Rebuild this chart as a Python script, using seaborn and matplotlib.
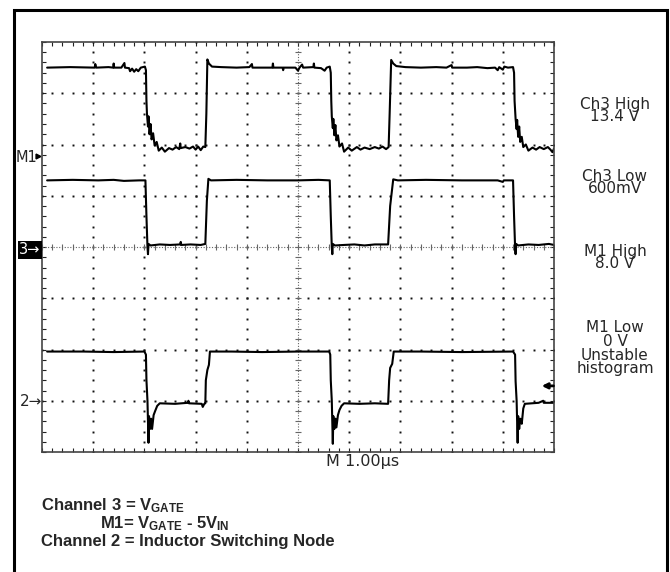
import matplotlib
matplotlib.use("Agg")
import matplotlib.pyplot as plt
import seaborn as sns
import pandas as pd
import numpy as np

# scope traces, (time in us, position in screen divisions, 0 = centre line)
m1_points = [
    (0.10, 3.50), (0.55, 3.51), (0.95, 3.50), (1.03, 3.50), (1.04, 3.57), (1.06, 3.50),
    (1.30, 3.51), (1.39, 3.50), (1.40, 3.58), (1.41, 3.50), (1.55, 3.50), (1.61, 3.59),
    (1.62, 3.50), (1.70, 3.49), (1.72, 3.43), (1.76, 3.48), (1.80, 3.42), (1.84, 3.47),
    (1.88, 3.43), (1.93, 3.50), (2.01, 3.52),
    (2.03, 3.45), (2.04, 2.85), (2.05, 2.60), (2.07, 2.35), (2.08, 2.55), (2.10, 2.20),
    (2.12, 2.40), (2.14, 2.10), (2.17, 2.22), (2.20, 1.98), (2.24, 2.05), (2.28, 1.88),
    (2.34, 1.94), (2.40, 1.86), (2.48, 1.93), (2.55, 1.90), (2.62, 1.95), (2.68, 1.91),
    (2.70, 2.02), (2.71, 1.93), (2.80, 1.95), (2.88, 1.92), (2.95, 1.96), (3.00, 1.90),
    (3.05, 1.96), (3.10, 1.89), (3.15, 1.96), (3.19, 1.95),
    (3.21, 2.60), (3.23, 3.66), (3.26, 3.58), (3.32, 3.52), (3.50, 3.51), (3.80, 3.50),
    (4.05, 3.51), (4.10, 3.57), (4.11, 3.50), (4.35, 3.50), (4.50, 3.50), (4.51, 3.58),
    (4.52, 3.50), (4.70, 3.50), (4.71, 3.45), (4.72, 3.50), (4.95, 3.50), (5.00, 3.44),
    (5.03, 3.50), (5.08, 3.56), (5.10, 3.50), (5.30, 3.51), (5.31, 3.58), (5.32, 3.50),
    (5.45, 3.49), (5.52, 3.44), (5.56, 3.50), (5.62, 3.52),
    (5.64, 3.40), (5.65, 2.85), (5.66, 2.55), (5.68, 2.32), (5.69, 2.50), (5.71, 2.18),
    (5.73, 2.38), (5.75, 2.08), (5.78, 2.18), (5.81, 1.96), (5.86, 2.02), (5.90, 1.86),
    (5.98, 1.94), (6.05, 1.88), (6.15, 1.95), (6.22, 1.90), (6.30, 1.94), (6.40, 1.91),
    (6.50, 1.95), (6.58, 1.92), (6.65, 1.96), (6.72, 1.91), (6.77, 1.95),
    (6.79, 2.60), (6.82, 3.65), (6.86, 3.58), (6.92, 3.53), (7.10, 3.51), (7.40, 3.50),
    (7.70, 3.51), (7.90, 3.50), (8.00, 3.55), (8.01, 3.50), (8.30, 3.50), (8.50, 3.51),
    (8.70, 3.49), (8.85, 3.50), (8.90, 3.45), (8.93, 3.51), (9.00, 3.46), (9.03, 3.52),
    (9.10, 3.50), (9.20, 3.51),
    (9.22, 3.40), (9.23, 2.85), (9.25, 2.50), (9.27, 2.30), (9.28, 2.48), (9.30, 2.15),
    (9.32, 2.35), (9.34, 2.05), (9.37, 2.15), (9.40, 1.95), (9.45, 2.00), (9.50, 1.88),
    (9.58, 1.94), (9.65, 1.90), (9.72, 1.95), (9.80, 1.91), (9.88, 1.95), (9.93, 1.90),
    (9.97, 1.85), (10.0, 1.92),
]

ch3_points = [
    (0.10, 1.30), (0.60, 1.31), (1.10, 1.30), (1.40, 1.31), (1.60, 1.29), (1.90, 1.30),
    (2.02, 1.30), (2.04, 0.60), (2.06, 0.00), (2.07, -0.14), (2.08, 0.06), (2.12, 0.03),
    (2.30, 0.05), (2.50, 0.04), (2.70, 0.05), (2.71, 0.10), (2.72, 0.04), (2.90, 0.05),
    (3.10, 0.04), (3.19, 0.06), (3.22, 0.90), (3.25, 1.33), (3.30, 1.30), (3.80, 1.31),
    (4.40, 1.30), (5.00, 1.30), (5.40, 1.31), (5.62, 1.30),
    (5.64, 0.60), (5.66, 0.00), (5.67, -0.14), (5.68, 0.06), (5.72, 0.03), (5.90, 0.04),
    (6.10, 0.05), (6.30, 0.03), (6.50, 0.05), (6.76, 0.05), (6.80, 0.80), (6.86, 1.32),
    (6.95, 1.30), (7.50, 1.31), (8.20, 1.30), (8.90, 1.30), (9.00, 1.27), (9.02, 1.30),
    (9.20, 1.30), (9.22, 0.60), (9.24, 0.00), (9.25, -0.14), (9.26, 0.06), (9.30, 0.03),
    (9.50, 0.05), (9.70, 0.04), (9.90, 0.06), (10.0, 0.04),
]

ch2_points = [
    (0.10, -2.04), (0.80, -2.04), (1.40, -2.05), (2.00, -2.04), (2.03, -2.10),
    (2.04, -2.60), (2.06, -3.00), (2.08, -3.82), (2.09, -3.30), (2.11, -3.55), (2.13, -3.35),
    (2.15, -3.55), (2.18, -3.28), (2.21, -3.20), (2.25, -3.10), (2.30, -3.05), (2.60, -3.06),
    (2.85, -3.04), (2.86, -3.00), (2.87, -3.05), (3.12, -3.06), (3.14, -3.12), (3.17, -3.06),
    (3.19, -3.05), (3.20, -2.60), (3.23, -2.40), (3.26, -2.30), (3.28, -2.04), (3.70, -2.04),
    (4.30, -2.05), (5.00, -2.04), (5.61, -2.04), (5.63, -2.10),
    (5.64, -2.60), (5.66, -3.00), (5.68, -3.84), (5.69, -3.30), (5.71, -3.55), (5.73, -3.35),
    (5.75, -3.52), (5.78, -3.28), (5.81, -3.18), (5.85, -3.10), (5.90, -3.05), (6.20, -3.06),
    (6.50, -3.05), (6.76, -3.06), (6.78, -2.60), (6.80, -2.36), (6.84, -2.28), (6.87, -2.04),
    (7.40, -2.04), (8.20, -2.05), (9.20, -2.04), (9.24, -2.10),
    (9.25, -2.62), (9.27, -3.00), (9.29, -3.82), (9.30, -3.30), (9.32, -3.55), (9.34, -3.35),
    (9.37, -3.45), (9.40, -3.15), (9.43, -3.06), (9.70, -3.04), (9.79, -3.00), (9.80, -3.04),
    (10.0, -3.04),
]

# channel ground marker (divisions) and trigger level
m1_ground = 1.78
trigger_level = -2.71

readouts = [
    ("Ch3 High\n13.4 V", 97, 0.78),
    ("Ch3 Low\n600mV", 169, 0.78),
    ("M1 High\n8.0 V", 244, 0.78),
    ("M1 Low\n0 V\nUnstable\nhistogram", 320, 0.9),
]
timebase = "M 1.00\u00b5s"
captions = [
    (r"Channel 3 = V$_{\mathrm{GATE}}$", 41, 510),
    (r"M1= V$_{\mathrm{GATE}}$ - 5V$_{\mathrm{IN}}$", 100, 528),
    ("Channel 2 = Inductor Switching Node", 41, 546),
]

sns.set_style("ticks")
plt.rcParams["font.family"] = ["DejaVu Sans"]
plt.rcParams["mathtext.fontset"] = "custom"
plt.rcParams["mathtext.rm"] = "Liberation Sans:bold"
plt.rcParams["mathtext.it"] = "Liberation Sans:bold"
plt.rcParams["mathtext.bf"] = "Liberation Sans:bold"

W, H = 670, 572
fig = plt.figure(figsize=(6.7, 5.72), dpi=100)
fig.patch.set_facecolor("white")


def fx(x):
    return x / W


def fy(y):
    return 1 - y / H


ax = fig.add_axes([fx(42), fy(452), 512 / W, 410 / H])
ax.set_facecolor("white")

# graticule: dotted division lines, denser centre cross
minor_x = np.arange(0, 10.001, 0.2)
minor_y = np.arange(-4, 4.001, 0.2)
for gx in range(1, 10):
    if gx == 5:
        continue
    ax.plot(np.full(len(minor_y), gx), minor_y, ls="none", marker="s", ms=1.4, mew=0, color="#111")
for gy in range(-3, 4):
    if gy == 0:
        continue
    ax.plot(minor_x, np.full(len(minor_x), gy), ls="none", marker="s", ms=1.4, mew=0, color="#111")
ax.plot([5, 5], [-4, 4], ls=(0, (1, 1.5)), lw=0.8, color="#666")
ax.plot([0, 10], [0, 0], ls=(0, (1, 1.5)), lw=0.8, color="#666")
ax.plot(np.full(len(minor_y), 5), minor_y, ls="none", marker="_", ms=4, mew=0.8, color="#666")
ax.plot(minor_x, np.zeros(len(minor_x)), ls="none", marker="|", ms=4, mew=0.8, color="#666")

for pts in (m1_points, ch3_points, ch2_points):
    df = pd.DataFrame(pts, columns=["t", "v"])
    sns.lineplot(data=df, x="t", y="v", sort=False, estimator=None, color="black",
                 lw=1.5, ax=ax, legend=False)

ax.set_xlim(0, 10)
ax.set_ylim(-4, 4)
ax.set_xticks(range(11))
ax.set_xticks(minor_x, minor=True)
ax.set_yticks(range(-4, 5))
ax.set_yticks(minor_y, minor=True)
ax.tick_params(which="both", direction="in", length=3, width=0.8, color="#222",
               top=True, right=True, bottom=True, left=True,
               labelbottom=False, labelleft=False)
ax.set_xlabel("")
ax.set_ylabel("")
for s in ax.spines.values():
    s.set_color("#444")
    s.set_linewidth(1.2)

# channel markers
ax.plot([-0.07], [m1_ground], marker=">", ms=3.5, color="black", clip_on=False)
fig.text(fx(37), fy(157), "M1", ha="right", va="center", fontsize=10.5)
fig.text(fx(30), fy(250), "3\u2192", ha="center", va="center", color="white", fontsize=10.5,
         bbox=dict(boxstyle="square,pad=0.12", fc="black", ec="none"))
fig.text(fx(31), fy(401), "2\u2192", ha="center", va="center", fontsize=11)
ax.annotate("", xy=(9.76, trigger_level), xytext=(9.99, trigger_level),
            arrowprops=dict(arrowstyle="-|>", color="black", lw=2.0, mutation_scale=8,
                            shrinkA=0, shrinkB=0))

fig.text(fx(326), fy(466), timebase, ha="left", va="baseline", fontsize=11.5)

for label, y, spacing in readouts:
    fig.text(fx(615), fy(y), label, ha="center", va="top", fontsize=11,
             linespacing=spacing, multialignment="center")

for label, x, y in captions:
    fig.text(fx(x), fy(y), label, ha="left", va="baseline", fontsize=12,
             family="Liberation Sans", weight="bold")

# outer frame
fig.add_artist(plt.Line2D([fx(13.5), fx(13.5), fx(666.5), fx(666.5)],
                          [fy(580), fy(9.5), fy(9.5), fy(580)],
                          transform=fig.transFigure, color="black", lw=2.2,
                          solid_joinstyle="miter"))

fig.savefig("out.png", dpi=100)
